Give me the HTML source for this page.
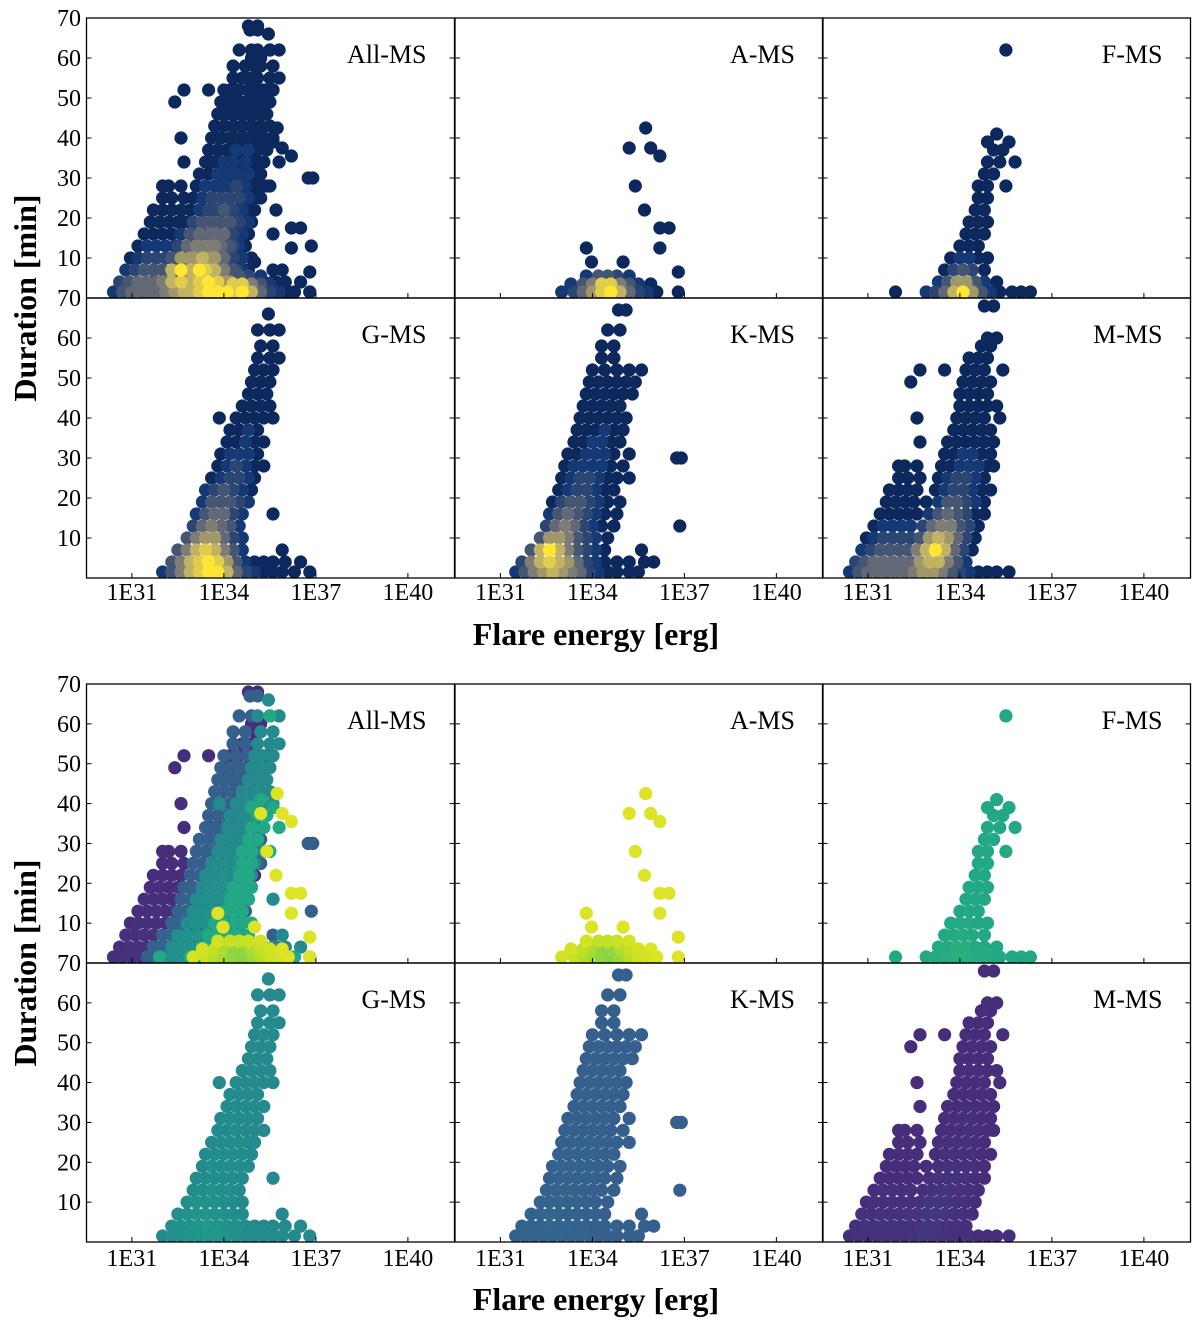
<!DOCTYPE html>
<html><head><meta charset="utf-8">
<style>
html,body{margin:0;padding:0;background:#fff;}
svg{display:block;}
svg text{font-family:"Liberation Serif","DejaVu Serif",serif;}
</style></head>
<body>
<svg id="fig" width="1200" height="1326" viewBox="0 0 1200 1326" xmlns="http://www.w3.org/2000/svg" font-family="Liberation Serif, serif"></svg>
<script>
// ---- data: rows "duration: logE/densityDigit ..." ----
const classNames = ["M", "K", "G", "F", "A"];
const mRows = [
"1.5:30.4/1 30.7/3 31.0/4 31.3/4 31.6/4 31.9/4 32.2/4 32.5/5 32.8/6 33.1/6 33.4/5 33.7/3 34.0/2 34.3/1 34.6/0 34.9/0 35.2/0 35.6/0",
"4:30.6/2 30.9/3 31.2/4 31.5/4 31.8/4 32.1/4 32.4/4 32.7/6 33.0/7 33.3/7 33.6/5 33.9/3 34.2/1",
"7:30.8/1 31.1/2 31.4/3 31.7/3 32.0/3 32.3/3 32.6/5 32.9/7 33.2/9 33.5/7 33.8/4 34.1/2 34.4/0",
"10:30.95/0 31.2/1 31.5/2 31.8/2 32.1/2 32.4/2 32.7/3 33.0/6 33.3/7 33.6/6 33.9/4 34.2/2 34.5/0",
"13:31.2/0 31.5/1 31.8/1 32.1/1 32.4/1 32.8/2 33.1/4 33.4/5 33.7/5 34.0/3 34.3/2 34.6/0",
"16:31.4/0 31.7/0 32.0/0 32.3/0 32.6/0 33.0/1 33.3/3 33.6/4 33.9/3 34.2/2 34.5/0 34.8/0",
"19:31.6/0 31.9/0 32.2/0 32.5/0 32.9/0 33.3/1 33.6/3 33.9/3 34.2/2 34.5/1 34.8/0",
"22:31.7/0 32.0/0 32.3/0 32.6/0 33.2/0 33.5/1 33.8/2 34.1/2 34.4/1 34.7/0 35.0/0",
"25:32.0/0 32.3/0 32.7/0 33.3/0 33.6/1 33.9/2 34.2/2 34.5/1 34.8/0",
"28:32.0/0 32.2/0 32.6/0 33.4/0 33.7/0 34.0/1 34.3/1 34.6/1 34.9/0 35.1/0",
"31:33.5/0 33.8/0 34.1/1 34.4/1 34.7/0 35.0/0",
"34:32.7/0 33.6/0 33.9/0 34.2/0 34.5/0 34.8/0 35.1/0",
"37:33.8/0 34.1/0 34.4/0 34.7/0 35.0/0",
"40:32.6/0 33.9/0 34.2/0 34.5/0 34.8/0 35.3/0",
"43:34.0/0 34.3/0 34.6/0 34.9/0 35.2/0",
"46:34.0/0 34.3/0 34.6/0 34.9/0",
"49:32.4/0 34.1/0 34.4/0 34.7/0 35.0/0",
"52:32.7/0 33.5/0 34.2/0 34.5/0 34.8/0 35.4/0",
"55:34.3/0 34.6/0 34.9/0",
"58:34.7/0 35.0/0",
"60:34.9/0 35.2/0",
"68:34.8/0 35.1/0"
];
const kRows = [
"1.5:31.5/1 31.8/3 32.1/5 32.4/6 32.7/7 33.0/6 33.3/5 33.6/4 33.9/2 34.2/1 34.5/0 34.8/0 35.2/0 35.5/0",
"4:31.7/2 32.0/5 32.3/7 32.6/8 32.9/7 33.2/6 33.5/4 33.8/2 34.1/1 34.4/0 34.8/0 35.2/0 35.7/0 36.0/0",
"7:32.0/3 32.3/7 32.6/9 32.9/7 33.2/5 33.5/3 33.8/2 34.1/1 34.4/0 35.6/0",
"10:32.3/3 32.6/6 32.9/6 33.2/5 33.5/3 33.8/2 34.1/1 34.5/0",
"13:32.5/2 32.8/4 33.1/5 33.4/4 33.7/2 34.0/1 34.3/0 34.7/0 36.85/0",
"16:32.6/1 32.9/3 33.2/4 33.5/3 33.8/2 34.1/1 34.4/0 34.8/0",
"19:32.7/0 33.0/2 33.3/3 33.6/3 33.9/2 34.2/1 34.5/0 34.9/0",
"22:32.9/0 33.2/1 33.5/2 33.8/2 34.1/1 34.4/0 34.7/0",
"25:33.0/0 33.3/1 33.6/2 33.9/2 34.2/1 34.5/0 34.8/0 35.2/0",
"28:33.1/0 33.4/1 33.7/1 34.0/1 34.3/1 34.6/0 35.0/0",
"30:36.75/0 36.9/0",
"31:33.2/0 33.5/0 33.8/1 34.1/1 34.4/1 34.7/0 35.2/0",
"34:33.4/0 33.7/0 34.0/1 34.3/1 34.6/0 34.9/0",
"37:33.5/0 33.8/0 34.1/0 34.4/1 34.7/0 35.0/0",
"40:33.6/0 33.9/0 34.2/0 34.5/0 34.8/0 35.1/0",
"43:33.7/0 34.0/0 34.3/0 34.6/0 34.9/0",
"46:33.8/0 34.1/0 34.4/0 34.7/0 35.0/0 35.3/0",
"49:33.9/0 34.2/0 34.5/0 34.8/0 35.1/0 35.4/0",
"52:34.0/0 34.4/0 34.8/0 35.2/0 35.6/0",
"55:34.3/0 34.7/0",
"58:34.3/0 34.7/0",
"62:34.5/0 34.9/0",
"67:34.85/0 35.1/0"
];
const gRows = [
"1.5:32.0/1 32.3/3 32.6/5 32.9/7 33.2/8 33.5/9 33.8/9 34.1/7 34.4/4 34.7/2 35.0/1 35.3/0 35.6/0 35.9/0 36.3/0 36.8/0",
"4:32.3/3 32.6/5 32.9/7 33.2/8 33.5/9 33.8/8 34.1/6 34.4/3 34.7/1 35.0/0 35.3/0 35.6/0 36.0/0 36.5/0",
"7:32.5/3 32.8/5 33.1/7 33.4/8 33.7/7 34.0/5 34.3/3 34.6/1 35.9/0",
"10:32.8/3 33.1/5 33.4/6 33.7/6 34.0/4 34.3/2 34.6/1",
"13:33.0/2 33.3/4 33.6/5 33.9/4 34.2/3 34.5/1",
"16:33.1/1 33.4/3 33.7/4 34.0/4 34.3/2 34.6/1 35.6/0",
"19:33.3/1 33.6/3 33.9/3 34.2/3 34.5/2 34.8/1",
"22:33.4/1 33.7/2 34.0/3 34.3/2 34.6/1 34.9/0",
"25:33.6/0 33.9/1 34.2/2 34.5/2 34.8/1 35.0/0",
"28:33.8/0 34.1/1 34.4/2 34.7/1 35.0/0 35.3/0",
"31:33.9/0 34.2/1 34.5/1 34.8/1 35.1/0",
"34:34.1/0 34.4/0 34.7/1 35.0/0 35.3/0",
"37:34.2/0 34.5/0 34.8/1 35.1/0",
"40:33.85/0 34.4/0 34.7/0 35.0/0 35.3/0 35.6/0",
"43:34.6/0 34.9/0 35.2/0 35.5/0",
"46:34.8/0 35.1/0 35.4/0",
"49:34.9/0 35.2/0 35.5/0",
"52:35.0/0 35.3/0 35.6/0",
"55:35.1/0 35.5/0 35.8/0",
"58:35.2/0 35.6/0",
"62:35.1/0 35.5/0 35.8/0",
"66:35.45/0"
];
const fRows = [
"1.5:31.9/0 32.9/1 33.2/2 33.5/4 33.8/7 34.1/9 34.4/6 34.7/3 35.0/1 35.3/0 35.7/0 36.0/0 36.3/0",
"4:33.3/1 33.6/3 33.9/6 34.2/6 34.5/3 34.8/1 35.2/0",
"7:33.5/0 33.8/2 34.1/3 34.4/2 34.8/0",
"10:33.7/0 34.0/1 34.3/1 34.6/0 34.9/0",
"13:34.0/0 34.3/0 34.6/0",
"16:34.2/0 34.5/0 34.8/0",
"19:34.3/0 34.6/0 34.9/0",
"22:34.5/0 34.8/0",
"25:34.6/0 34.9/0",
"28:34.6/0 34.9/0 35.5/0",
"31:34.8/0 35.1/0",
"34:34.9/0 35.3/0 35.8/0",
"37:35.1/0 35.4/0",
"39:34.9/0 35.6/0",
"41:35.2/0",
"62:35.5/0"
];
const aRows = [
"1.5:33.0/1 33.4/2 33.7/4 34.0/6 34.3/8 34.6/9 34.9/7 35.2/4 35.5/2 35.8/1 36.1/0 36.8/0",
"3.5:33.3/1 33.7/3 34.0/5 34.3/8 34.6/8 34.9/5 35.2/3 35.5/1 35.9/0",
"5.5:33.8/1 34.2/3 34.5/3 34.8/2 35.2/1",
"6.5:36.8/0",
"9:33.97/0 35.0/0",
"12.5:33.8/0 36.2/0",
"17.5:36.2/0 36.5/0",
"22:35.7/0",
"28:35.4/0",
"35.5:36.2/0",
"37.5:35.2/0 35.9/0",
"42.5:35.74/0"
];
const classBase = [0.13, 0.30, 0.50, 0.60, 0.84];
const panelTitles = ["All-MS", "A-MS", "F-MS", "G-MS", "K-MS", "M-MS"];
const xTickLabels = ["1E31", "1E34", "1E37", "1E40"];
const xTickValues = [31, 34, 37, 40];
const yTickValues = [10, 20, 30, 40, 50, 60];

// ---- helpers ----
const NS = "http://www.w3.org/2000/svg";
const svg = document.getElementById("fig");
const FONT = "Liberation Serif, DejaVu Serif, serif";
function mk(tag, attrs, parent) {
  const e = document.createElementNS(NS, tag);
  for (const k in attrs) e.setAttribute(k, attrs[k]);
  if (tag === "text") e.setAttribute("font-family", FONT);
  (parent || svg).appendChild(e);
  return e;
}
function parseRows(rows, cls) {
  const pts = [];
  rows.forEach(r => {
    const [d, rest] = r.split(":");
    rest.trim().split(/\s+/).forEach(tok => {
      const [e, dd] = tok.split("/");
      pts.push({e: +e, d: +d, dens: +dd / 9, cls: cls});
    });
  });
  return pts;
}
const data = [mRows, kRows, gRows, fRows, aRows].map((r, i) => parseRows(r, i));
const allPts = [].concat(...data);

function lerpStops(stops, v) {
  v = Math.max(0, Math.min(1, v));
  for (let i = 1; i < stops.length; i++) {
    if (v <= stops[i][0]) {
      const [a, ca] = stops[i - 1], [b, cb] = stops[i];
      const t = (v - a) / (b - a);
      const c = ca.map((x, j) => Math.round(x + (cb[j] - x) * t));
      return `rgb(${c[0]},${c[1]},${c[2]})`;
    }
  }
  const c = stops[stops.length - 1][1];
  return `rgb(${c[0]},${c[1]},${c[2]})`;
}
const cividis = [[0,[12,40,92]],[0.12,[22,58,118]],[0.3,[60,80,115]],[0.55,[125,122,118]],[0.8,[200,185,95]],[1,[255,230,50]]];
const viridis = [[0,[68,1,84]],[0.1,[72,36,117]],[0.2,[65,68,135]],[0.3,[53,95,141]],[0.4,[42,120,142]],[0.5,[33,145,140]],[0.6,[34,168,132]],[0.7,[68,191,112]],[0.8,[122,209,81]],[0.9,[189,223,38]],[1,[253,231,37]]];
function bottomColor(p) {
  let t = classBase[p.cls];
  if (p.cls === 4) t = 0.95 - 0.13 * p.dens;
  else if (p.cls === 2) t = 0.47 + 0.06 * p.dens;
  else t = t + 0.03 * p.dens;
  return lerpStops(viridis, t);
}

const colX = [86.5, 455, 822.5];
const PW = 368;
const XMIN = 29.52, XMAX = 41.52;
function xScale(col, e) { return colX[col] + (e - XMIN) / (XMAX - XMIN) * PW; }
function yScale(top, h, d) { return top + h - d / 70 * h; }

const figs = [
  {name: "density", rows: [18, 298], h: 280, axisLabelY: 645, tickLabelY: 600},
  {name: "class", rows: [684, 963], h: 279, axisLabelY: 1310, tickLabelY: 1266}
];
const panelPts = [allPts, data[4], data[3], data[2], data[1], data[0]];

figs.forEach((f, fi) => {
  const g = mk("g", {});
  
  
  for (let pi = 0; pi < 6; pi++) {
    const col = pi % 3, row = Math.floor(pi / 3);
    const top = f.rows[row], h = f.h;
    const pg = mk("g", {}, g);
    
    
    const cid = "clip" + fi + "_" + pi;
    const cp = mk("clipPath", {id: cid}, pg);
    mk("rect", {x: colX[col], y: top, width: PW, height: h}, cp);
    const mg = mk("g", {"clip-path": `url(#${cid})`}, pg);
    let pts = panelPts[pi].slice();
    if (fi === 0) pts.sort((a, b) => a.dens - b.dens);
    pts.forEach(p => {
      const c = mk("circle", {
        cx: xScale(col, p.e).toFixed(1), cy: yScale(top, h, p.d).toFixed(1), r: 6.6,
        fill: fi === 0 ? lerpStops(cividis, p.dens) : bottomColor(p)
      }, mg);
      
      
    });
    const fr = mk("rect", {x: colX[col], y: top, width: PW, height: h, fill: "none", stroke: "#000", "stroke-width": 1.3}, pg);
    
    
    yTickValues.forEach(v => {
      const y = yScale(top, h, v);
      mk("line", {x1: colX[col], x2: colX[col] + 5, y1: y, y2: y, stroke: "#000", "stroke-width": 1}, pg);
      mk("line", {x1: colX[col] + PW - 5, x2: colX[col] + PW, y1: y, y2: y, stroke: "#000", "stroke-width": 1}, pg);
    });
    xTickValues.forEach(v => {
      const x = xScale(col, v);
      mk("line", {x1: x, x2: x, y1: top + h, y2: top + h - 5, stroke: "#000", "stroke-width": 1}, pg);
    });
    const t = mk("text", {x: colX[col] + 340, y: top + 45, "text-anchor": "end", "font-size": 26}, pg);
    t.textContent = panelTitles[pi];
    
    
    if (row === 1) {
      xTickValues.forEach((v, i) => {
        const tl = mk("text", {x: xScale(col, v), y: f.tickLabelY, "text-anchor": "middle", "font-size": 24}, pg);
        tl.textContent = xTickLabels[i];
        
        
      });
    }
    if (col === 0) {
      const labs = yTickValues.slice();
      if (row === 0) labs.push(70);
      labs.forEach(v => {
        const tl = mk("text", {x: 81, y: yScale(top, h, v) + 8, "text-anchor": "end", "font-size": 24}, pg);
        tl.textContent = v;
        
        
      });
      if (row === 1) {
        const tl = mk("text", {x: 81, y: top + 8, "text-anchor": "end", "font-size": 24}, pg);
        tl.textContent = "70";
        
        
      }
    }
  }
  const yt = mk("text", {x: 0, y: 0, "text-anchor": "middle", "font-size": 32, "font-weight": "bold",
    transform: `translate(36,${f.rows[1]}) rotate(-90)`}, g);
  yt.textContent = "Duration [min]";
  
  
  const xt = mk("text", {x: 596, y: f.axisLabelY, "text-anchor": "middle", "font-size": 32, "font-weight": "bold"}, g);
  xt.textContent = "Flare energy [erg]";
  
  
});
</script>
</body></html>
